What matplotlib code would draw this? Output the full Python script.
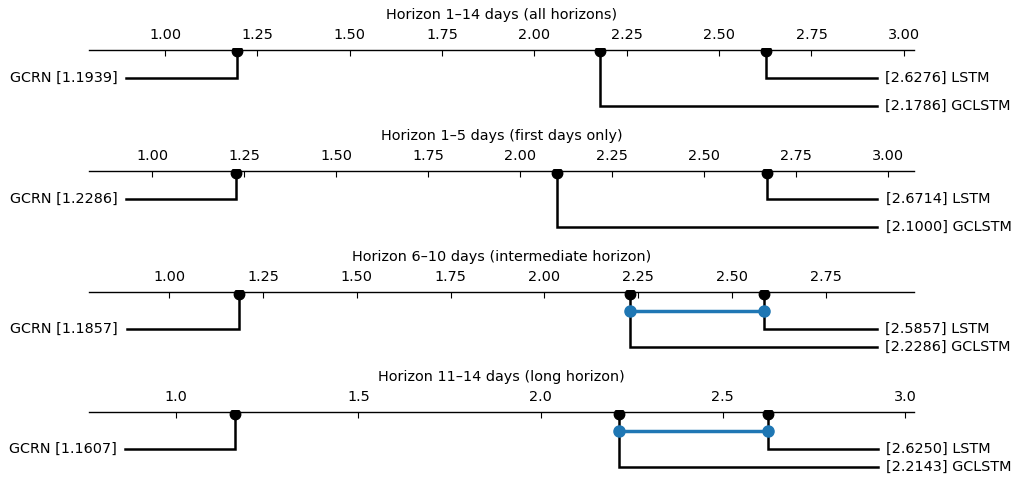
import numpy as np
import matplotlib as mpl
mpl.use('Agg')
import matplotlib.pyplot as plt

# average ranks per horizon
titles = ["Horizon 1\u201314 days (all horizons)",
          "Horizon 1\u20135 days (first days only)",
          "Horizon 6\u201310 days (intermediate horizon)",
          "Horizon 11\u201314 days (long horizon)"]
models = ["GCRN", "GCLSTM", "LSTM"]
rank_all = [1.1939, 2.1786, 2.6276]
rank_first = [1.2286, 2.1000, 2.6714]
rank_mid = [1.1857, 2.2286, 2.5857]
rank_long = [1.1607, 2.2143, 2.6250]
ranks = [rank_all, rank_first, rank_mid, rank_long]
# groups not significantly different (critical difference bars)
cd_groups = [[], [], [["GCLSTM", "LSTM"]], [["GCLSTM", "LSTM"]]]

W, H = 1016, 478
fig = plt.figure(figsize=(W / 100, H / 100), dpi=100)

spine_y = [50, 171, 292, 412]
ax_h = 64
top_gap = 2
left_px, right_px = 89, 914
fs = 10.4

for i in range(4):
    r = np.array(ranks[i])
    ax = fig.add_axes([left_px / W, 1 - (spine_y[i] - top_gap + ax_h) / H,
                       (right_px - left_px) / W, ax_h / H])
    lo, hi = r.min() - 0.4, r.max() + 0.4
    ax.set_xlim(lo, hi)
    ax.set_ylim(ax_h - top_gap, -top_gap)
    for s in ["left", "right", "bottom"]:
        ax.spines[s].set_visible(False)
    ax.spines["top"].set_position(("data", 0))
    ax.spines["top"].set_linewidth(1.0)
    ax.xaxis.set_ticks_position("top")
    ax.tick_params(axis="x", direction="in", length=4, labelsize=fs, pad=6)
    ax.set_yticks([])
    ax.set_title(titles[i], fontsize=fs, pad=6)

    has_cd = len(cd_groups[i]) > 0
    row1, row2 = (36.5, 55) if has_cd else (28, 56)

    order = np.argsort(r)
    best = order[0]
    others = sorted(order[1:], key=lambda k: -r[k])
    rows = {best: row1}
    rows[others[0]] = row1
    rows[others[1]] = row2

    for k in range(len(models)):
        x = r[k]
        y = rows[k]
        ax.plot([x], [1.5], marker="o", color="black", markersize=7.5, clip_on=True, zorder=4)
        if k == best:
            xe = lo + 0.1
            ax.plot([x, x, xe], [0, y, y], color="black", lw=1.8, solid_joinstyle="miter")
            ax.annotate("%s [%.4f]" % (models[k], x), (xe, y), xytext=(-6, 0),
                        textcoords="offset points", ha="right", va="center",
                        fontsize=fs, annotation_clip=False)
        else:
            xe = hi - 0.1
            ax.plot([x, x, xe], [0, y, y], color="black", lw=1.8, solid_joinstyle="miter")
            ax.annotate("[%.4f] %s" % (x, models[k]), (xe, y), xytext=(6, 0),
                        textcoords="offset points", ha="left", va="center",
                        fontsize=fs, annotation_clip=False)

    for g in cd_groups[i]:
        xs = [r[models.index(m)] for m in g]
        ax.plot([min(xs), max(xs)], [19, 19], color="#1f77b4", lw=2.5,
                marker="o", markersize=8, zorder=5)

fig.savefig("out.png", dpi=100)
